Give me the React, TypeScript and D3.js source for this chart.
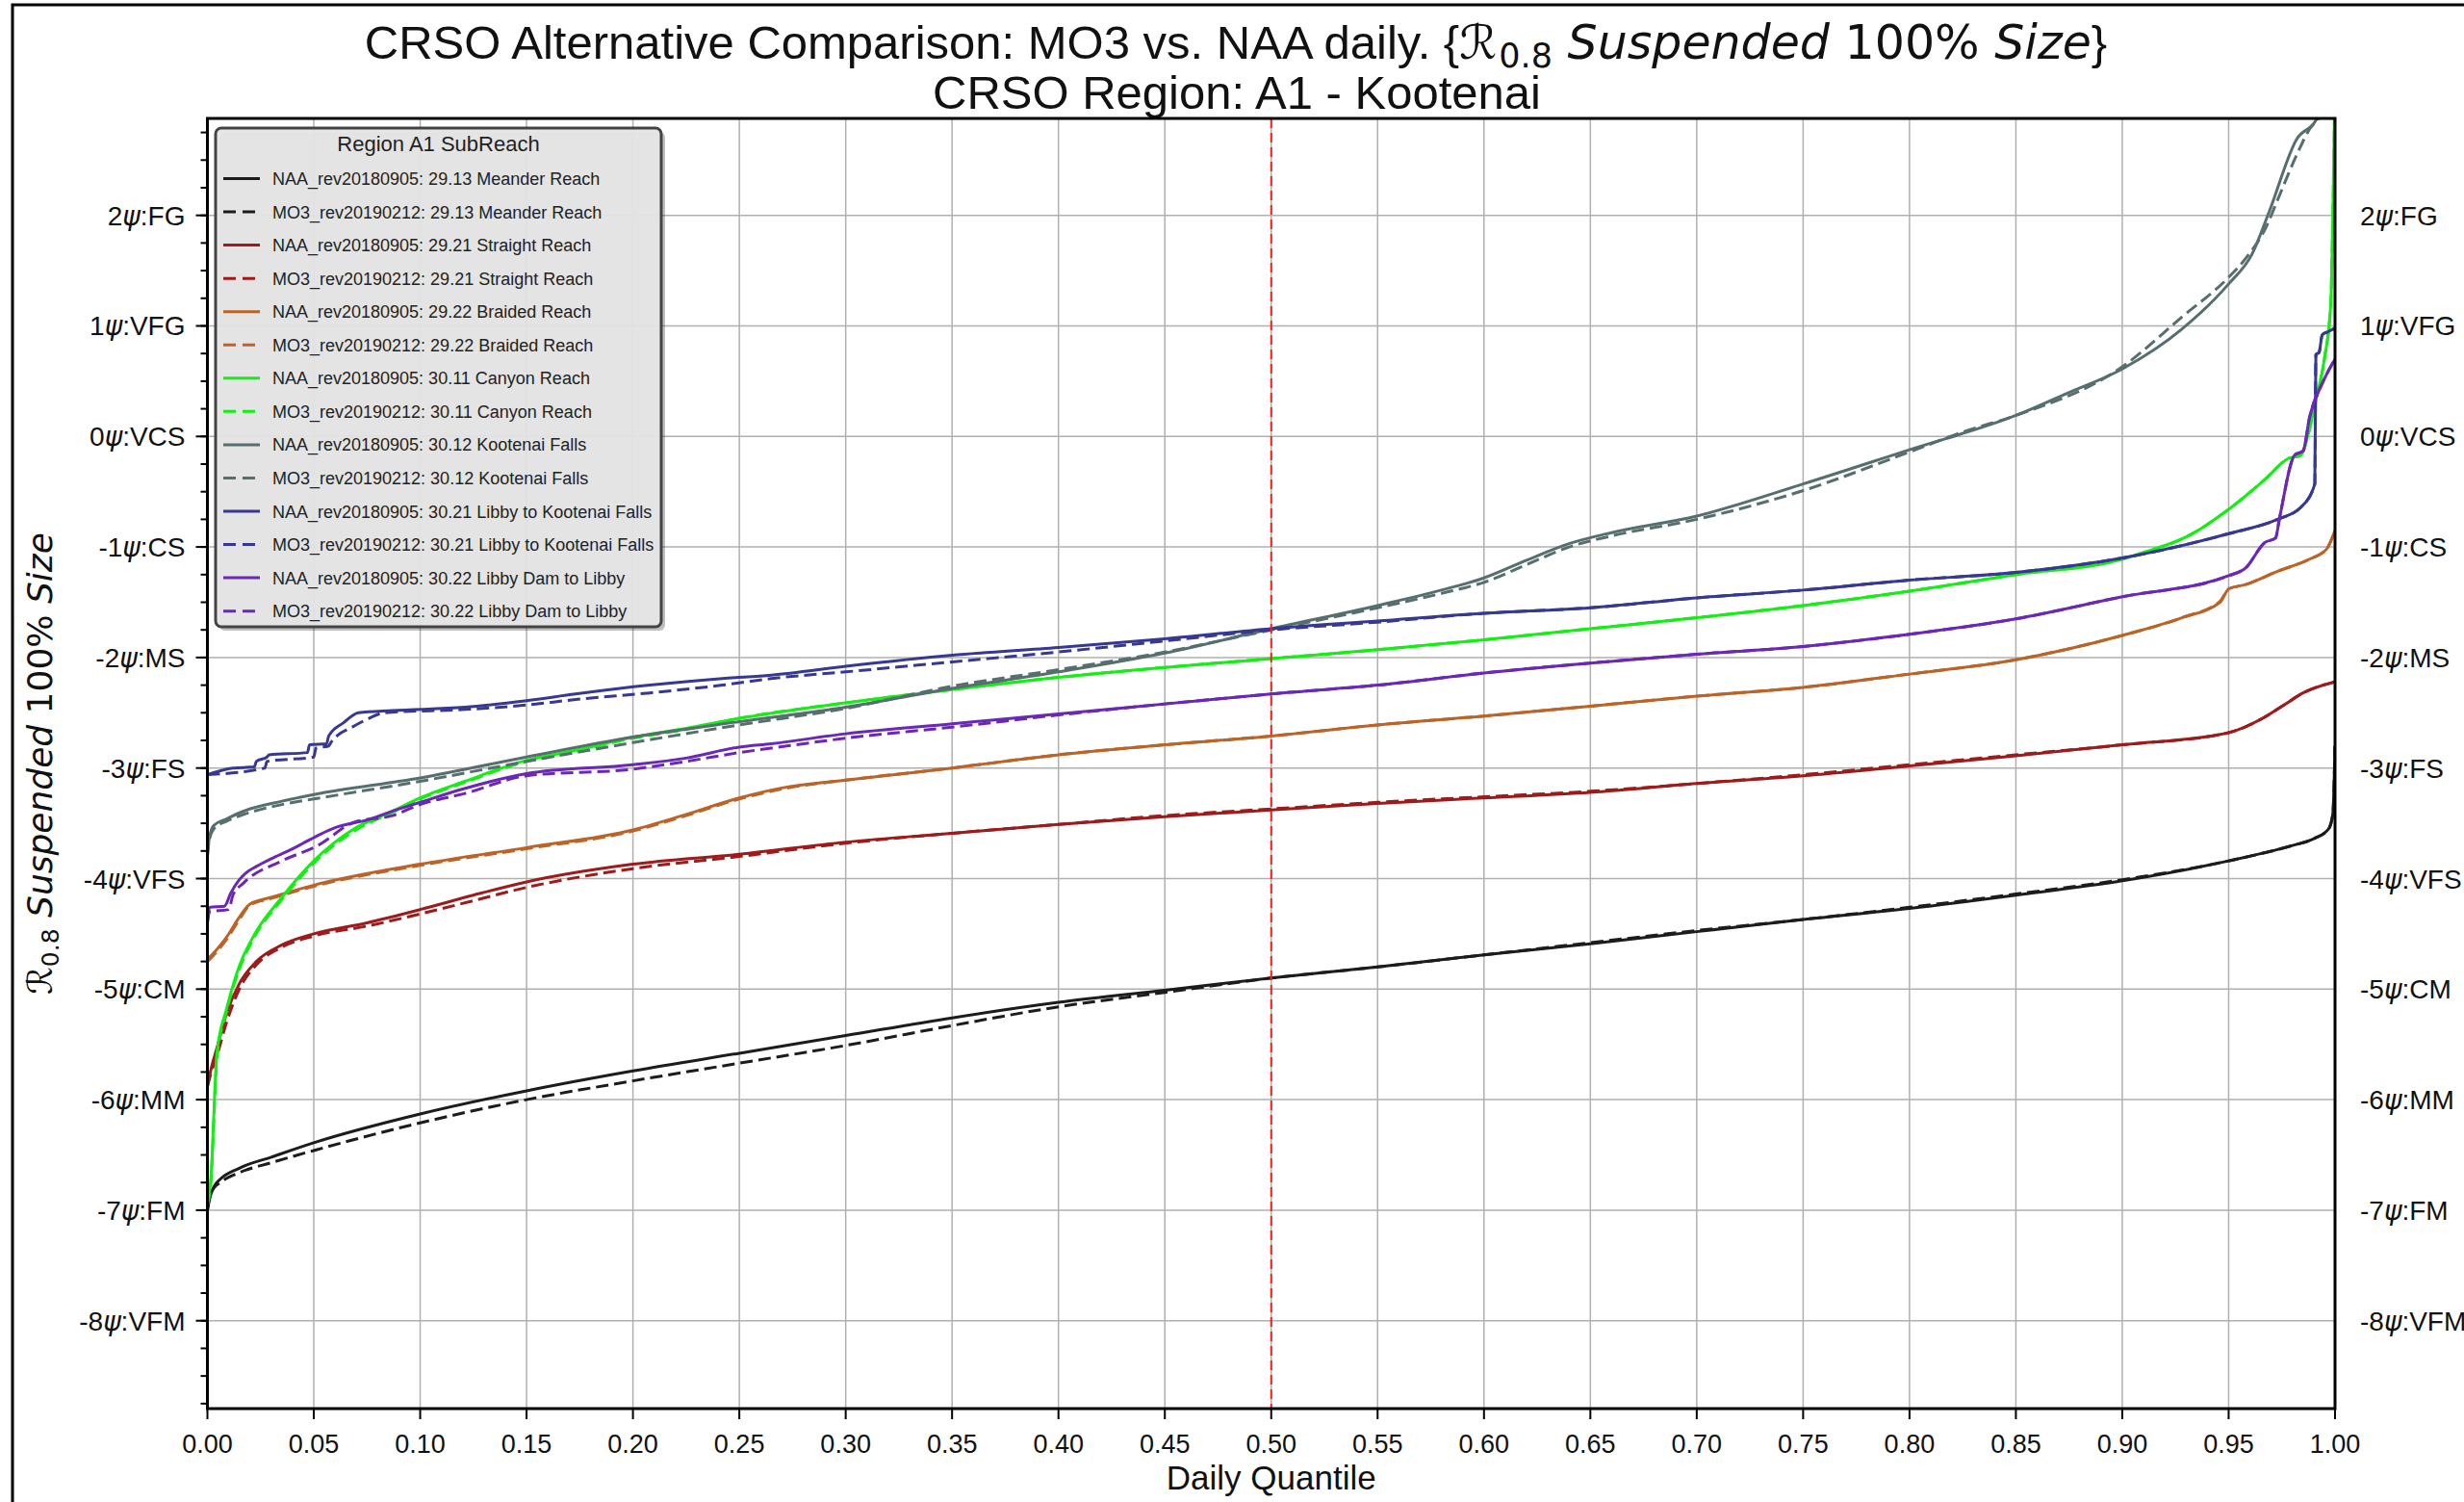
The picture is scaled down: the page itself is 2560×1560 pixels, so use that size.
import React from "react";
import * as d3 from "d3";

type Pt = [number, number];

// ---------- data ----------
const reaches = [
  "29.13 Meander Reach",
  "29.21 Straight Reach",
  "29.22 Braided Reach",
  "30.11 Canyon Reach",
  "30.12 Kootenai Falls",
  "30.21 Libby to Kootenai Falls",
  "30.22 Libby Dam to Libby",
];
const naaName = "NAA_rev20180905";
const mo3Name = "MO3_rev20190212";
const reachColors = ["#1c1c1c", "#9e1b1b", "#bb6428", "#14ee14", "#566e6e", "#363892", "#6a28b4"];

const xTickValues = d3.range(0, 21).map((i) => i * 0.05);
const yTickValues = [2, 1, 0, -1, -2, -3, -4, -5, -6, -7, -8];
const yTickClasses = ["FG", "VFG", "VCS", "CS", "MS", "FS", "VFS", "CM", "MM", "FM", "VFM"];
const yMinorValues = d3.range(-35, 12).map((i) => i * 0.25);

const meanderNAA: Pt[] = [[0,-7.0],[0.001,-6.9],[0.003,-6.79],[0.006,-6.72],[0.015,-6.62],[0.03,-6.52],[0.05,-6.39],[0.1,-6.13],[0.15,-5.92],[0.2,-5.74],[0.25,-5.58],[0.3,-5.42],[0.35,-5.26],[0.4,-5.12],[0.45,-5.01],[0.5,-4.9],[0.55,-4.8],[0.6,-4.69],[0.65,-4.59],[0.7,-4.48],[0.75,-4.37],[0.8,-4.27],[0.85,-4.15],[0.9,-4.02],[0.95,-3.84],[0.98,-3.7],[0.99,-3.64],[0.997,-3.55],[0.999,-3.41],[1.0,-2.8]];
const meanderMO3: Pt[] = [[0,-7.0],[0.001,-6.88],[0.003,-6.8],[0.006,-6.75],[0.015,-6.66],[0.03,-6.57],[0.05,-6.46],[0.1,-6.21],[0.15,-6.0],[0.2,-5.83],[0.25,-5.67],[0.3,-5.51],[0.35,-5.33],[0.4,-5.16],[0.45,-5.03],[0.5,-4.9],[0.55,-4.8],[0.6,-4.69],[0.65,-4.58],[0.7,-4.47],[0.75,-4.37],[0.8,-4.26],[0.85,-4.14],[0.9,-4.01],[0.95,-3.84],[0.98,-3.7],[0.99,-3.64],[0.997,-3.55],[0.999,-3.41],[1.0,-2.8]];
const straightNAA: Pt[] = [[0,-5.88],[0.002,-5.7],[0.0045,-5.53],[0.009,-5.22],[0.015,-4.95],[0.023,-4.75],[0.035,-4.6],[0.05,-4.5],[0.075,-4.4],[0.1,-4.28],[0.125,-4.15],[0.15,-4.03],[0.2,-3.87],[0.25,-3.78],[0.3,-3.67],[0.35,-3.59],[0.4,-3.51],[0.45,-3.44],[0.5,-3.38],[0.55,-3.32],[0.6,-3.27],[0.65,-3.22],[0.7,-3.14],[0.75,-3.07],[0.8,-2.98],[0.85,-2.89],[0.9,-2.79],[0.95,-2.68],[0.966,-2.55],[0.976,-2.43],[0.985,-2.32],[1.0,-2.22]];
const straightMO3: Pt[] = [[0,-5.88],[0.002,-5.74],[0.0045,-5.6],[0.009,-5.3],[0.015,-5.0],[0.023,-4.78],[0.035,-4.62],[0.05,-4.52],[0.075,-4.43],[0.1,-4.32],[0.125,-4.2],[0.15,-4.08],[0.2,-3.91],[0.25,-3.8],[0.3,-3.68],[0.35,-3.59],[0.4,-3.51],[0.45,-3.43],[0.5,-3.37],[0.55,-3.31],[0.6,-3.26],[0.65,-3.21],[0.7,-3.14],[0.75,-3.06],[0.8,-2.97],[0.85,-2.88],[0.9,-2.79],[0.95,-2.68],[0.966,-2.55],[0.976,-2.43],[0.985,-2.32],[1.0,-2.22]];
const braidedNAA: Pt[] = [[0,-4.73],[0.004,-4.65],[0.009,-4.53],[0.015,-4.35],[0.02,-4.23],[0.03,-4.17],[0.05,-4.06],[0.1,-3.87],[0.15,-3.72],[0.2,-3.56],[0.225,-3.42],[0.25,-3.27],[0.27,-3.18],[0.3,-3.11],[0.35,-3.0],[0.4,-2.88],[0.45,-2.79],[0.5,-2.71],[0.55,-2.61],[0.6,-2.53],[0.65,-2.44],[0.7,-2.35],[0.75,-2.27],[0.8,-2.15],[0.85,-2.02],[0.9,-1.8],[0.928,-1.64],[0.946,-1.5],[0.95,-1.38],[0.958,-1.34],[0.973,-1.22],[0.988,-1.11],[0.996,-1.02],[1.0,-0.85]];
const braidedMO3: Pt[] = [[0,-4.75],[0.004,-4.67],[0.009,-4.55],[0.015,-4.37],[0.02,-4.24],[0.03,-4.18],[0.05,-4.07],[0.1,-3.88],[0.15,-3.73],[0.2,-3.57],[0.225,-3.43],[0.25,-3.28],[0.27,-3.19],[0.3,-3.11],[0.35,-3.0],[0.4,-2.88],[0.45,-2.79],[0.5,-2.71],[0.55,-2.61],[0.6,-2.53],[0.65,-2.44],[0.7,-2.35],[0.75,-2.27],[0.8,-2.15],[0.85,-2.02],[0.9,-1.8],[0.928,-1.64],[0.946,-1.49],[0.95,-1.38],[0.958,-1.34],[0.973,-1.22],[0.988,-1.11],[0.996,-1.02],[1.0,-0.85]];
const canyonNAA: Pt[] = [[0,-6.9],[0.0015,-6.74],[0.0045,-5.57],[0.009,-5.18],[0.015,-4.79],[0.022,-4.51],[0.035,-4.17],[0.05,-3.84],[0.069,-3.55],[0.087,-3.39],[0.1,-3.27],[0.121,-3.12],[0.15,-2.93],[0.173,-2.84],[0.2,-2.72],[0.225,-2.64],[0.25,-2.55],[0.3,-2.41],[0.35,-2.29],[0.4,-2.18],[0.45,-2.09],[0.5,-2.01],[0.55,-1.93],[0.6,-1.84],[0.65,-1.74],[0.7,-1.64],[0.75,-1.53],[0.8,-1.4],[0.85,-1.25],[0.9,-1.11],[0.91,-1.05],[0.931,-0.9],[0.95,-0.66],[0.967,-0.39],[0.978,-0.2],[0.984,-0.17],[0.987,-0.01],[0.991,0.33],[0.995,0.7],[0.998,1.2],[0.999,2.03],[1.0,3.2]];
const canyonMO3: Pt[] = [[0,-6.95],[0.0015,-6.78],[0.0045,-5.62],[0.009,-5.2],[0.015,-4.82],[0.022,-4.53],[0.035,-4.19],[0.05,-3.86],[0.069,-3.57],[0.087,-3.4],[0.1,-3.28],[0.121,-3.13],[0.15,-2.94],[0.173,-2.85],[0.2,-2.73],[0.225,-2.65],[0.25,-2.55],[0.3,-2.41],[0.35,-2.29],[0.4,-2.18],[0.45,-2.09],[0.5,-2.01],[0.55,-1.93],[0.6,-1.84],[0.65,-1.74],[0.7,-1.64],[0.75,-1.53],[0.8,-1.4],[0.85,-1.25],[0.9,-1.11],[0.91,-1.05],[0.931,-0.9],[0.95,-0.66],[0.967,-0.39],[0.978,-0.2],[0.984,-0.17],[0.987,-0.01],[0.991,0.33],[0.995,0.7],[0.998,1.2],[0.999,2.03],[1.0,3.2]];
const kootenaiNAA: Pt[] = [[0,-3.78],[0.001,-3.62],[0.003,-3.52],[0.009,-3.46],[0.017,-3.39],[0.035,-3.3],[0.05,-3.24],[0.1,-3.09],[0.15,-2.9],[0.2,-2.72],[0.25,-2.58],[0.3,-2.45],[0.35,-2.28],[0.4,-2.13],[0.45,-1.96],[0.5,-1.74],[0.55,-1.53],[0.58,-1.39],[0.6,-1.28],[0.62,-1.12],[0.64,-0.97],[0.66,-0.87],[0.7,-0.72],[0.75,-0.43],[0.8,-0.12],[0.85,0.19],[0.874,0.39],[0.9,0.61],[0.928,0.97],[0.95,1.38],[0.961,1.65],[0.969,2.03],[0.982,2.69],[0.991,2.86],[1.0,3.3]];
const kootenaiMO3: Pt[] = [[0,-3.8],[0.001,-3.64],[0.003,-3.55],[0.009,-3.48],[0.017,-3.42],[0.035,-3.33],[0.05,-3.28],[0.1,-3.12],[0.15,-2.94],[0.2,-2.77],[0.25,-2.61],[0.3,-2.46],[0.35,-2.26],[0.4,-2.11],[0.45,-1.95],[0.5,-1.75],[0.55,-1.55],[0.58,-1.42],[0.6,-1.32],[0.62,-1.16],[0.64,-1.0],[0.66,-0.9],[0.7,-0.75],[0.75,-0.49],[0.8,-0.14],[0.825,0.04],[0.85,0.19],[0.9,0.63],[0.928,1.08],[0.95,1.44],[0.958,1.61],[0.968,1.91],[0.973,2.14],[0.983,2.59],[0.988,2.78],[0.993,2.9],[1.0,3.3]];
const libbyKFNAA: Pt[] = [[0,-3.06],[0.012,-3.0],[0.022,-2.99],[0.023,-2.94],[0.028,-2.9],[0.029,-2.88],[0.047,-2.86],[0.048,-2.79],[0.056,-2.78],[0.057,-2.71],[0.064,-2.59],[0.071,-2.5],[0.087,-2.48],[0.121,-2.45],[0.15,-2.39],[0.173,-2.33],[0.208,-2.25],[0.242,-2.19],[0.265,-2.16],[0.3,-2.08],[0.35,-1.98],[0.4,-1.91],[0.45,-1.83],[0.5,-1.74],[0.55,-1.67],[0.6,-1.6],[0.65,-1.55],[0.7,-1.46],[0.75,-1.39],[0.8,-1.3],[0.85,-1.23],[0.9,-1.1],[0.95,-0.88],[0.973,-0.75],[0.984,-0.64],[0.9905,-0.43],[0.991,0.74],[0.9925,0.76],[0.994,0.92],[0.997,0.95],[1.0,0.98]];
const libbyKFMO3: Pt[] = [[0,-3.06],[0.027,-3.0],[0.028,-2.94],[0.05,-2.9],[0.051,-2.82],[0.057,-2.8],[0.058,-2.77],[0.069,-2.62],[0.076,-2.55],[0.083,-2.5],[0.121,-2.47],[0.15,-2.43],[0.173,-2.38],[0.208,-2.32],[0.242,-2.25],[0.265,-2.19],[0.3,-2.13],[0.35,-2.04],[0.4,-1.95],[0.45,-1.85],[0.5,-1.75],[0.55,-1.68],[0.6,-1.6],[0.65,-1.55],[0.7,-1.46],[0.75,-1.39],[0.8,-1.3],[0.85,-1.23],[0.9,-1.1],[0.95,-0.88],[0.973,-0.75],[0.984,-0.64],[0.9905,-0.43],[0.991,0.74],[0.9925,0.76],[0.994,0.92],[0.997,0.95],[1.0,0.98]];
const libbyDamNAA: Pt[] = [[0,-4.4],[0.001,-4.26],[0.008,-4.25],[0.011,-4.13],[0.015,-4.01],[0.018,-3.95],[0.023,-3.89],[0.03,-3.82],[0.039,-3.74],[0.045,-3.68],[0.053,-3.6],[0.06,-3.54],[0.075,-3.47],[0.09,-3.37],[0.1,-3.31],[0.12,-3.19],[0.15,-3.05],[0.2,-2.97],[0.225,-2.91],[0.25,-2.81],[0.265,-2.78],[0.3,-2.69],[0.35,-2.6],[0.4,-2.51],[0.45,-2.42],[0.5,-2.33],[0.55,-2.25],[0.6,-2.14],[0.65,-2.05],[0.7,-1.97],[0.75,-1.9],[0.8,-1.79],[0.85,-1.65],[0.9,-1.45],[0.95,-1.26],[0.958,-1.19],[0.967,-0.96],[0.972,-0.92],[0.974,-0.73],[0.981,-0.17],[0.985,-0.13],[0.988,0.17],[0.994,0.48],[1.0,0.7]];
const libbyDamMO3: Pt[] = [[0,-4.4],[0.001,-4.3],[0.01,-4.28],[0.012,-4.15],[0.017,-4.04],[0.035,-3.84],[0.052,-3.7],[0.069,-3.49],[0.087,-3.43],[0.1,-3.33],[0.121,-3.23],[0.15,-3.07],[0.2,-3.01],[0.225,-2.94],[0.25,-2.86],[0.265,-2.82],[0.3,-2.73],[0.35,-2.63],[0.4,-2.52],[0.45,-2.42],[0.5,-2.33],[0.55,-2.25],[0.6,-2.14],[0.65,-2.05],[0.7,-1.97],[0.75,-1.9],[0.8,-1.79],[0.85,-1.65],[0.9,-1.45],[0.95,-1.26],[0.958,-1.19],[0.967,-0.96],[0.972,-0.92],[0.974,-0.73],[0.981,-0.17],[0.985,-0.13],[0.988,0.17],[0.994,0.48],[1.0,0.7]];

const naaSeries: Pt[][] = [meanderNAA, straightNAA, braidedNAA, canyonNAA, kootenaiNAA, libbyKFNAA, libbyDamNAA];
const mo3Series: Pt[][] = [meanderMO3, straightMO3, braidedMO3, canyonMO3, kootenaiMO3, libbyKFMO3, libbyDamMO3];
const medianQuantile = 0.5;

// ---------- layout ----------
const W = 2560;
const H = 1560;
const PL = 215.5, PR = 2426, PT = 123, PB = 1463;
const SANS = "'Liberation Sans', Arial, sans-serif";
const DJ = "'DejaVu Sans', sans-serif";

export default function App() {
  const x = d3.scaleLinear().domain([0, 1]).range([PL, PR]);
  const y = d3.scaleLinear().domain([-8.795, 2.877]).range([PB, PT]);
  const line = d3.line<Pt>().x((d) => x(d[0])).y((d) => y(d[1])).curve(d3.curveMonotoneX);

  const entries: { label: string; color: string; dashed: boolean; data: Pt[] }[] = [];
  reaches.forEach((r, i) => {
    entries.push({ label: `${naaName}: ${r}`, color: reachColors[i], dashed: false, data: naaSeries[i] });
    entries.push({ label: `${mo3Name}: ${r}`, color: reachColors[i], dashed: true, data: mo3Series[i] });
  });

  const legX = 224, legY = 133, legW = 463, legH = 518;
  const rowH = 34.55;

  return (
    <svg width={W} height={H} style={{ position: "absolute", left: 0, top: 0, background: "#fff" }}>
      <defs>
        <clipPath id="plotclip">
          <rect x={PL} y={PT} width={PR - PL} height={PB - PT} />
        </clipPath>
      </defs>
      <rect x={0} y={0} width={W} height={H} fill="#fff" />
      {/* figure border */}
      <rect x={13} y={5} width={W + 20} height={H + 20} fill="none" stroke="#000" strokeWidth={3} />

      {/* title */}
      <text x={1284} y={61} textAnchor="middle" fontFamily={SANS} fontSize={49} fill="#111">
        CRSO Alternative Comparison: MO3 vs. NAA daily. {"{"}
        <tspan fontFamily={DJ}>ℛ</tspan>
        <tspan fontFamily={DJ} fontSize={35} dx={2} dy={9}>0.8</tspan>
        <tspan fontFamily={DJ} fontStyle="italic" dy={-9}> Suspended</tspan>
        <tspan fontFamily={DJ}> 100% </tspan>
        <tspan fontFamily={DJ} fontStyle="italic">Size</tspan>
        <tspan>{"}"}</tspan>
      </text>
      <text x={1285} y={113} textAnchor="middle" fontFamily={SANS} fontSize={49} fill="#111">
        CRSO Region: A1 - Kootenai
      </text>

      {/* grid */}
      <g stroke="#b0b0b0" strokeWidth={1.5}>
        {xTickValues.map((v) => (
          <line key={"gx" + v} x1={x(v)} x2={x(v)} y1={PT} y2={PB} />
        ))}
        {yTickValues.map((v) => (
          <line key={"gy" + v} x1={PL} x2={PR} y1={y(v)} y2={y(v)} />
        ))}
      </g>

      {/* series */}
      <g clipPath="url(#plotclip)" fill="none" strokeLinejoin="round">
        {entries.map((e, i) => (
          <path
            key={"s" + i}
            d={line(e.data) || ""}
            stroke={e.color}
            strokeWidth={3}
            strokeDasharray={e.dashed ? "13,6" : undefined}
          />
        ))}
        <line
          x1={x(medianQuantile)}
          x2={x(medianQuantile)}
          y1={PT}
          y2={PB}
          stroke="#ff1a1a"
          strokeWidth={2}
          strokeDasharray="10,5"
        />
      </g>

      {/* spines */}
      <rect x={PL} y={PT} width={PR - PL} height={PB - PT} fill="none" stroke="#000" strokeWidth={3} />

      {/* x ticks */}
      {xTickValues.map((v) => (
        <g key={"xt" + v}>
          <line x1={x(v)} x2={x(v)} y1={PB} y2={PB + 11} stroke="#000" strokeWidth={2} />
          <text x={x(v)} y={PB + 46} textAnchor="middle" fontFamily={SANS} fontSize={27} fill="#111">
            {d3.format(".2f")(v)}
          </text>
        </g>
      ))}
      <text x={(PL + PR) / 2} y={1547} textAnchor="middle" fontFamily={SANS} fontSize={35} fill="#111">
        Daily Quantile
      </text>

      {/* y minor ticks */}
      {yMinorValues
        .filter((v) => y(v) >= PT && y(v) <= PB)
        .map((v) => (
          <line key={"ym" + v} x1={PL - 7} x2={PL} y1={y(v)} y2={y(v)} stroke="#000" strokeWidth={2} />
        ))}
      {/* y major ticks + labels */}
      {yTickValues.map((v, i) => (
        <g key={"yt" + v}>
          <line x1={PL - 12} x2={PL} y1={y(v)} y2={y(v)} stroke="#000" strokeWidth={2} />
          <text x={PL - 23} y={y(v) + 10} textAnchor="end" fontFamily={SANS} fontSize={28} fill="#111">
            {v}
            <tspan fontFamily={DJ} fontStyle="italic">ψ</tspan>:{yTickClasses[i]}
          </text>
          <text x={PR + 26} y={y(v) + 10} textAnchor="start" fontFamily={SANS} fontSize={28} fill="#111">
            {v}
            <tspan fontFamily={DJ} fontStyle="italic">ψ</tspan>:{yTickClasses[i]}
          </text>
        </g>
      ))}

      {/* y label */}
      <g transform={`translate(54, ${(PT + PB) / 2}) rotate(-90)`}>
        <text x={0} y={0} textAnchor="middle" fontFamily={DJ} fontSize={36} fill="#111">
          ℛ
          <tspan fontSize={25} dy={7}>0.8</tspan>
          <tspan fontStyle="italic" dy={-7}> Suspended</tspan>
          <tspan> 100% </tspan>
          <tspan fontStyle="italic">Size</tspan>
        </text>
      </g>

      {/* legend */}
      <g>
        <rect x={legX + 4} y={legY + 4} width={legW} height={legH} rx={6} fill="#000" opacity={0.25} />
        <rect x={legX} y={legY} width={legW} height={legH} rx={6} fill="#e6e6e6" fillOpacity={0.95} stroke="#444" strokeWidth={3} />
        <text x={legX + legW / 2} y={legY + 24} textAnchor="middle" fontFamily={SANS} fontSize={22} fill="#222">
          Region A1 SubReach
        </text>
        {entries.map((e, i) => {
          const cy = 185.5 + i * rowH;
          return (
            <g key={"lg" + i}>
              <line
                x1={232}
                x2={270}
                y1={cy}
                y2={cy}
                stroke={e.color}
                strokeWidth={3}
                strokeDasharray={e.dashed ? "13,7" : undefined}
              />
              <text x={283} y={cy + 6.5} fontFamily={SANS} fontSize={18} fill="#222">
                {e.label}
              </text>
            </g>
          );
        })}
      </g>
    </svg>
  );
}
